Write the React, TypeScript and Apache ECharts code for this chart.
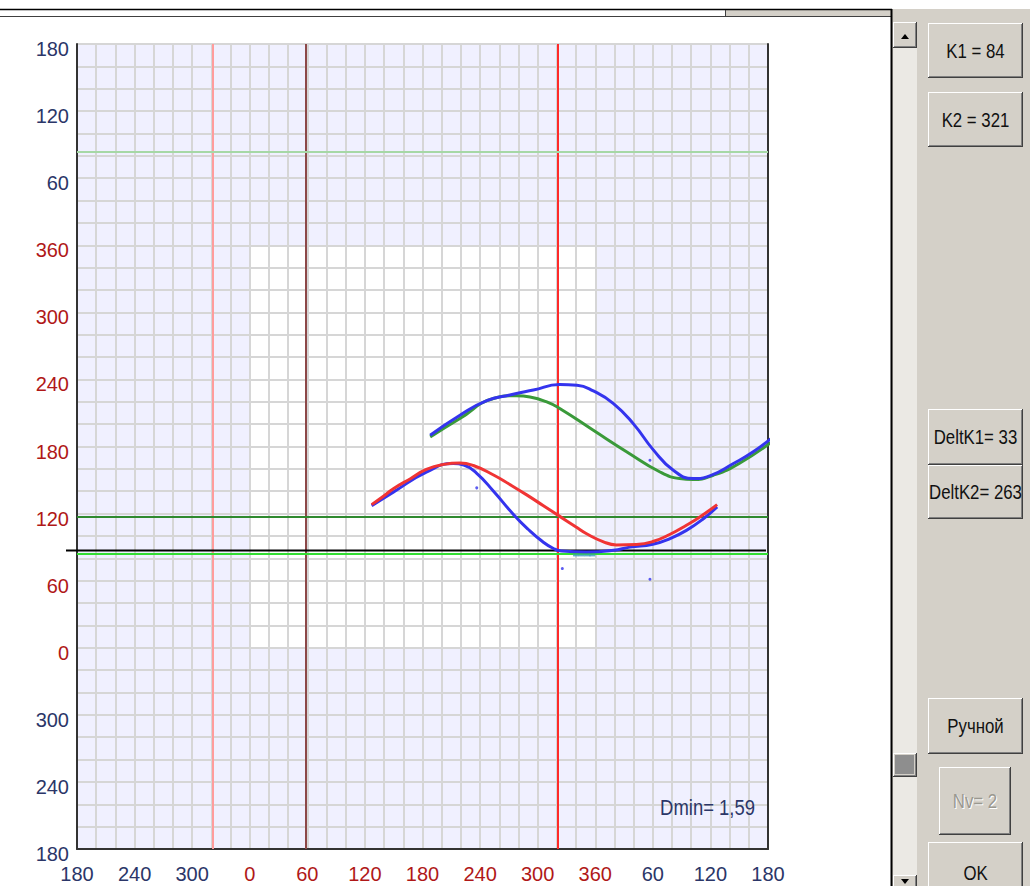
import React, { useEffect, useRef } from "react";
import * as echarts from "echarts";

// ---- parameters shown in the panel ----
const K1 = 84;
const K2 = 321;
const DELT_K1 = 33;
const DELT_K2 = 263;
const DMIN_LEVEL = 87;
const DMIN_TEXT = "Dmin= 1,59";
const NV = 2;

// ---- axes ----
const X_MIN = -180;
const X_MAX = 540;
const Y_MIN = -180;
const Y_MAX = 540;
const xTickLabels = ["180", "240", "300", "0", "60", "120", "180", "240", "300", "360", "60", "120", "180"];
const yTickLabels = ["180", "240", "300", "0", "60", "120", "180", "240", "300", "360", "60", "120", "180"];

// ---- curves [x, y] ----
const redCurve = [
  [127, 128], [140, 136], [150, 142.4], [167, 151], [184, 159.5], [202, 164], [219, 165.3], [233, 163],
  [254, 154.5], [271, 146], [289, 136.5], [306, 127], [323, 117.5], [340, 108], [351, 102], [368, 95],
  [382, 92], [403, 92.4], [420, 95], [438, 101.5], [455, 109.6], [469, 117], [487, 128],
];
const blueLowerCurve = [
  [127, 127], [150, 139.4], [184, 157], [212, 164.8], [223, 163.5], [236.5, 156], [254, 140],
  [275, 119], [290, 106], [305, 95], [316, 89], [325, 86.5], [351, 85.7], [379, 87.2], [396, 90],
  [420, 92.5], [438, 97.7], [455, 105], [473, 115.6], [487, 126],
];
const blueUpperCurve = [
  [188, 190], [219, 208], [247, 221], [271, 226], [295.5, 230.5], [323, 235.4], [341, 234.8],
  [358, 229.7], [379, 218.4], [400, 200], [420.5, 177], [441, 159], [462, 151.3], [480, 154],
  [504, 164.8], [525, 175.5], [546, 189.2],
];
const greenCurve = [
  [188, 188.6], [219, 205], [254, 222.9], [278, 225.4], [292, 224.3], [309.5, 219.9], [323, 214],
  [358, 194.5], [393, 175.1], [427.5, 157.2], [448, 151.3], [462, 150.4], [483, 154.3], [510, 164.8],
  [546, 185.6],
];
const blueDots = [[236.5, 143], [325.7, 70.8], [417, 61.3], [417, 167.7]];
const tealDots = [[340, 82.6], [346, 82.6], [352, 82.6], [357, 82.6]];

const AXIS_FONT = "'Liberation Sans', Arial, sans-serif";
const UI_FONT = "'Liberation Sans', Arial, sans-serif";
const NAVY = "#2b3668";
const DARKRED = "#b01818";
const FACE = "#d4d0c8";

function tickFormatter(labels: string[], min: number) {
  return (val: number) => {
    const v = Math.round(val);
    if (v % 60 !== 0) return "";
    const lab = labels[(v - min) / 60];
    if (lab === undefined) return "";
    return v >= 0 && v <= 360 ? `{r|${lab}}` : `{b|${lab}}`;
  };
}

const rich = {
  r: { color: DARKRED, fontSize: 20, fontFamily: AXIS_FONT },
  b: { color: NAVY, fontSize: 20, fontFamily: AXIS_FONT },
};

function setZ(e: any, z: number): any {
  const out = { ...e, z };
  if (e.children) out.children = e.children.map((c: any) => setZ(c, z));
  return out;
}

function uiText(x: number, y: number, text: string, fill: string, size = 21, align = "center") {
  return {
    type: "text", x, y, scaleX: 0.8,
    style: { text, fill, fontSize: size, fontFamily: UI_FONT, align, verticalAlign: "middle" },
  };
}

function button(x: number, y: number, w: number, h: number, label: string, disabled = false) {
  const children: any[] = [
    { type: "rect", shape: { x: 0, y: 0, width: w, height: h }, style: { fill: FACE } },
    { type: "line", shape: { x1: 0, y1: 0.5, x2: w - 1, y2: 0.5 }, style: { stroke: "#ffffff", lineWidth: 1 } },
    { type: "line", shape: { x1: 0.5, y1: 0, x2: 0.5, y2: h - 1 }, style: { stroke: "#ffffff", lineWidth: 1 } },
    { type: "line", shape: { x1: 0, y1: h - 0.5, x2: w, y2: h - 0.5 }, style: { stroke: "#404040", lineWidth: 1 } },
    { type: "line", shape: { x1: w - 0.5, y1: 0, x2: w - 0.5, y2: h }, style: { stroke: "#404040", lineWidth: 1 } },
    { type: "line", shape: { x1: 1, y1: h - 1.5, x2: w - 1, y2: h - 1.5 }, style: { stroke: "#808080", lineWidth: 1 } },
    { type: "line", shape: { x1: w - 1.5, y1: 1, x2: w - 1.5, y2: h - 1 }, style: { stroke: "#808080", lineWidth: 1 } },
  ];
  if (label) {
    if (disabled) children.push(uiText(w / 2 + 1, h / 2 + 1, label, "#ffffff"));
    children.push(uiText(w / 2, h / 2, label, disabled ? "#9a9890" : "#111111"));
  }
  return { type: "group", x, y, children };
}

export default function App() {
  const ref = useRef<HTMLDivElement>(null);

  useEffect(() => {
    if (!ref.current) return;
    const chart = echarts.init(ref.current, undefined, { renderer: "svg" });

    const vLines = [
      { value: K2 - 360, color: "#ff9c9c" },
      { value: K2 - DELT_K2, color: "#8c4848" },
      { value: K2, color: "#ff2a2a" },
    ];
    const hLines = [
      { value: K1 + 360, color: "#a6d8a6" },
      { value: K1 + DELT_K1, color: "#2f8a2f" },
      { value: K1, color: "#33dd33" },
    ];

    const background: any[] = [
      { type: "rect", shape: { x: 726, y: 10, width: 165, height: 6 }, style: { fill: FACE } },
      { type: "line", shape: { x1: 0, y1: 9.5, x2: 892, y2: 9.5 }, style: { stroke: "#000", lineWidth: 1.5 } },
      { type: "line", shape: { x1: 0, y1: 16.5, x2: 891, y2: 16.5 }, style: { stroke: "#404040", lineWidth: 1 } },
      { type: "line", shape: { x1: 725.5, y1: 10, x2: 725.5, y2: 16 }, style: { stroke: "#404040", lineWidth: 1 } },
      { type: "rect", shape: { x: 892, y: 9, width: 138, height: 877 }, style: { fill: FACE } },
      { type: "line", shape: { x1: 891.5, y1: 9, x2: 891.5, y2: 886 }, style: { stroke: "#000", lineWidth: 2 } },
      { type: "rect", shape: { x: 893, y: 48, width: 24, height: 827 }, style: { fill: "#ebe9e4" } },
    ];
    const foreground: any[] = [
      button(893, 22, 24, 26, ""),
      { type: "polygon", shape: { points: [[901, 39], [909, 39], [905, 34]] }, style: { fill: "#000" } },
      button(893, 753, 24, 24, ""),
      { type: "rect", shape: { x: 895, y: 755, width: 19, height: 19 }, style: { fill: "#8e8e8e" } },
      button(893, 875, 24, 26, ""),
      { type: "polygon", shape: { points: [[901, 879], [909, 879], [905, 884]] }, style: { fill: "#000" } },
      button(928, 23, 95, 55, `K1 = ${K1}`),
      button(928, 92, 95, 55, `K2 = ${K2}`),
      button(928, 409, 95, 56, `DeltK1= ${DELT_K1}`),
      button(928, 465, 95, 54, `DeltK2= ${DELT_K2}`),
      button(928, 698, 95, 56, "Ручной"),
      button(939, 767, 72, 68, `Nv= ${NV}`, true),
      button(928, 842, 95, 62, "OK"),
      {
        type: "text", x: 755, y: 807, scaleX: 0.84,
        style: { text: DMIN_TEXT, fill: NAVY, fontSize: 22, fontFamily: UI_FONT, align: "right", verticalAlign: "middle" },
      },
    ];

    const curveLine = (name: string, data: number[][], color: string, z: number, clip = true) => ({
      name, type: "line", data, smooth: 0.5, symbol: "none", clip, z,
      lineStyle: { color, width: 3 }, silent: true,
    });

    const baseGraphic = [
      ...background.map((e) => setZ(e, 90)),
      ...foreground.map((e) => setZ(e, 100)),
    ];

    chart.setOption({
      animation: false,
      backgroundColor: "#ffffff",
      grid: { left: 77, top: 44, width: 691, height: 805, show: true, backgroundColor: "#f0f0ff", borderWidth: 0 },
      xAxis: {
        type: "value", min: X_MIN, max: X_MAX, interval: 20, z: 3,
        axisLine: { show: true, onZero: false, lineStyle: { color: "#333333", width: 2 } },
        axisTick: { show: false },
        splitLine: { show: true, lineStyle: { color: "#d6d6d6", width: 2 } },
        axisLabel: { formatter: tickFormatter(xTickLabels, X_MIN), rich, margin: 15, showMinLabel: true, showMaxLabel: true },
      },
      yAxis: [
        {
          type: "value", min: Y_MIN, max: Y_MAX, interval: 20, z: 3,
          axisLine: { show: true, onZero: false, lineStyle: { color: "#333333", width: 2 } },
          axisTick: { show: false },
          splitLine: { show: true, lineStyle: { color: "#d6d6d6", width: 2 } },
          axisLabel: { formatter: tickFormatter(yTickLabels, Y_MIN), rich, margin: 8, padding: [10, 0, 0, 0], showMinLabel: true, showMaxLabel: true },
        },
        {
          type: "value", min: Y_MIN, max: Y_MAX, interval: 20, position: "right", z: 3,
          axisLine: { show: true, onZero: false, lineStyle: { color: "#333333", width: 2 } },
          axisTick: { show: false }, splitLine: { show: false }, axisLabel: { show: false },
        },
      ],
      series: [
        {
          name: "area", type: "line", data: [], z: 1, silent: true,
          markArea: {
            silent: true,
            itemStyle: { color: "#ffffff" },
            data: [[{ xAxis: 0, yAxis: 0 }, { xAxis: 360, yAxis: 360 }]],
          },
        },
        {
          name: "marks", type: "line", data: [], z: 5, silent: true,
          markLine: {
            silent: true, symbol: "none", label: { show: false },
            data: [
              ...vLines.map((l) => ({ xAxis: l.value, lineStyle: { color: l.color, width: 2, type: "solid" } })),
              ...hLines.map((l) => ({ yAxis: l.value, lineStyle: { color: l.color, width: 2, type: "solid" } })),
            ],
          },
        },
        curveLine("green", greenCurve, "#3a9a3a", 10, false),
        curveLine("blueUpper", blueUpperCurve, "#3434ee", 11, false),
        curveLine("blueLower", blueLowerCurve, "#3434ee", 12),
        curveLine("red", redCurve, "#f03434", 13),
        { name: "dots", type: "scatter", data: blueDots, symbolSize: 3, itemStyle: { color: "#3434ee" }, z: 14, silent: true },
        { name: "teal", type: "scatter", data: tealDots, symbol: "rect", symbolSize: [6, 2], itemStyle: { color: "#3a9ac0" }, z: 14, silent: true },
      ],
      graphic: { elements: baseGraphic },
    });

    // Dmin level line, drawn through the axes' scales, slightly overhanging the left axis like the original
    const pL = chart.convertToPixel({ xAxisIndex: 0, yAxisIndex: 0 }, [X_MIN, DMIN_LEVEL]) as number[];
    const pR = chart.convertToPixel({ xAxisIndex: 0, yAxisIndex: 0 }, [X_MAX, DMIN_LEVEL]) as number[];
    chart.setOption({
      graphic: {
        elements: [
          ...baseGraphic,
          {
            type: "line", z: 6, silent: true,
            shape: { x1: pL[0] - 11, y1: pL[1], x2: pR[0] - 2, y2: pR[1] },
            style: { stroke: "#000000", lineWidth: 2 },
          },
        ],
      },
    });

    return () => chart.dispose();
  }, []);

  return (
    <div
      ref={ref}
      style={{ position: "absolute", left: 0, top: 0, width: 1030, height: 886, background: "#fff" }}
    />
  );
}
